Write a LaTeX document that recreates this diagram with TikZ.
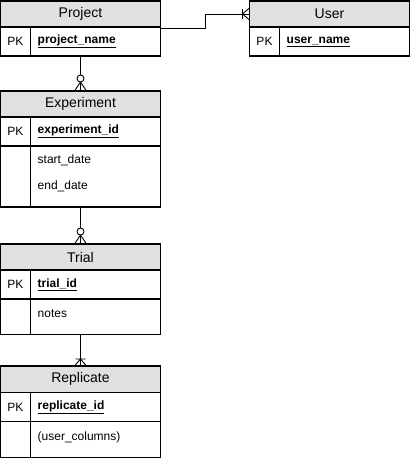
\documentclass[tikz,border=0pt]{standalone}
\usepackage{fontspec}
\setmainfont{Liberation Sans}
\usetikzlibrary{fit,positioning}
\definecolor{headgray}{RGB}{224,224,224}

\tikzset{
  tblline/.style={line width=1.3pt},
  tblhead/.style={tblline, draw, fill=headgray, minimum width=160pt, minimum height=26pt,
    inner sep=0pt, outer sep=0pt, font=\fontsize{14}{16}\selectfont},
  tblrow/.style={tblline, draw, minimum width=160pt, minimum height=29pt, inner sep=0pt, outer sep=0pt},
  pklabel/.style={font=\fontsize{12}{14}\selectfont, inner sep=0pt},
  field/.style={font=\fontsize{12}{14}\selectfont, inner sep=0pt, anchor=west},
  link/.style={line width=0.9pt},
  zeromany/.pic={\draw[link] (-6,0) -- (0,-9) -- (6,0) (0,0) -- (0,-9);
    \draw[link, fill=white] (0,-12.5) circle (3.5pt);},
  onemany/.pic={\draw[link] (-6,0) -- (0,-7) -- (6,0) (-5,-7) -- (5,-7);}
}

\begin{document}
\begin{tikzpicture}[x=1pt, y=-1pt]
\useasboundingbox (0,0) rectangle (411,459);

% Project
\node[tblhead, anchor=north west] (projhead) at (0.5,1) {Project};
\node[tblrow, below=0pt of projhead] (projrow) {};
\node[fit=(projhead)(projrow), inner sep=0pt] (project) {};
\draw[tblline] ([xshift=30pt]projrow.north west) -- ([xshift=30pt]projrow.south west);
\node[pklabel] at ([xshift=15pt]projrow.west) {PK};
\node[field] at ([xshift=37pt]projrow.west) {\underline{\textbf{project\_name}}};

% User
\node[tblhead, anchor=north west] (userhead) at (249.5,1) {User};
\node[tblrow, below=0pt of userhead] (userrow) {};
\draw[tblline] ([xshift=30pt]userrow.north west) -- ([xshift=30pt]userrow.south west);
\node[pklabel] at ([xshift=15pt]userrow.west) {PK};
\node[field] at ([xshift=37pt]userrow.west) {\underline{\textbf{user\_name}}};

% Experiment
\node[tblhead, anchor=north west] (exphead) at (0.5,91) {Experiment};
\node[tblrow, below=0pt of exphead] (exprow) {};
\node[tblrow, below=0pt of exprow, minimum height=61pt] (expattr) {};
\draw[tblline] ([xshift=30pt]exprow.north west) -- ([xshift=30pt]expattr.south west);
\node[pklabel] at ([xshift=15pt]exprow.west) {PK};
\node[field] at ([xshift=37pt]exprow.west) {\underline{\textbf{experiment\_id}}};
\node[field] at ([xshift=37pt, yshift=-14.5pt]expattr.north west) {start\_date};
\node[field] at ([xshift=37pt, yshift=-40pt]expattr.north west) {end\_date};

% Trial
\node[tblhead, anchor=north west] (trialhead) at (0.5,244) {Trial};
\node[tblrow, below=0pt of trialhead] (trialrow) {};
\node[tblrow, below=0pt of trialrow, minimum height=35.5pt] (trialattr) {};
\draw[tblline] ([xshift=30pt]trialrow.north west) -- ([xshift=30pt]trialattr.south west);
\node[pklabel] at ([xshift=15pt]trialrow.west) {PK};
\node[field] at ([xshift=37pt]trialrow.west) {\underline{\textbf{trial\_id}}};
\node[field] at ([xshift=37pt, yshift=-15pt]trialattr.north west) {notes};

% Replicate
\node[tblhead, anchor=north west, minimum height=26.5pt] (rephead) at (0.5,366) {Replicate};
\node[tblrow, below=0pt of rephead] (reprow) {};
\node[tblrow, below=0pt of reprow, minimum height=36pt] (repattr) {};
\draw[tblline] ([xshift=30pt]reprow.north west) -- ([xshift=30pt]repattr.south west);
\node[pklabel] at ([xshift=15pt]reprow.west) {PK};
\node[field] at ([xshift=37pt]reprow.west) {\underline{\textbf{replicate\_id}}};
\node[field] at ([xshift=37pt, yshift=-15.5pt]repattr.north west) {(user\_columns)};

% relations
\coordinate (bend) at (205,14);
\draw[link] (project.east) -| (bend) -- (userhead.west);
\pic[rotate=90] at (userhead.west) {onemany};
\draw[link] (projrow.south) -- (exphead.north);
\pic at (exphead.north) {zeromany};
\draw[link] (expattr.south) -- (trialhead.north);
\pic at (trialhead.north) {zeromany};
\draw[link] (trialattr.south) -- (rephead.north);
\pic at (rephead.north) {onemany};
\end{tikzpicture}
\end{document}
